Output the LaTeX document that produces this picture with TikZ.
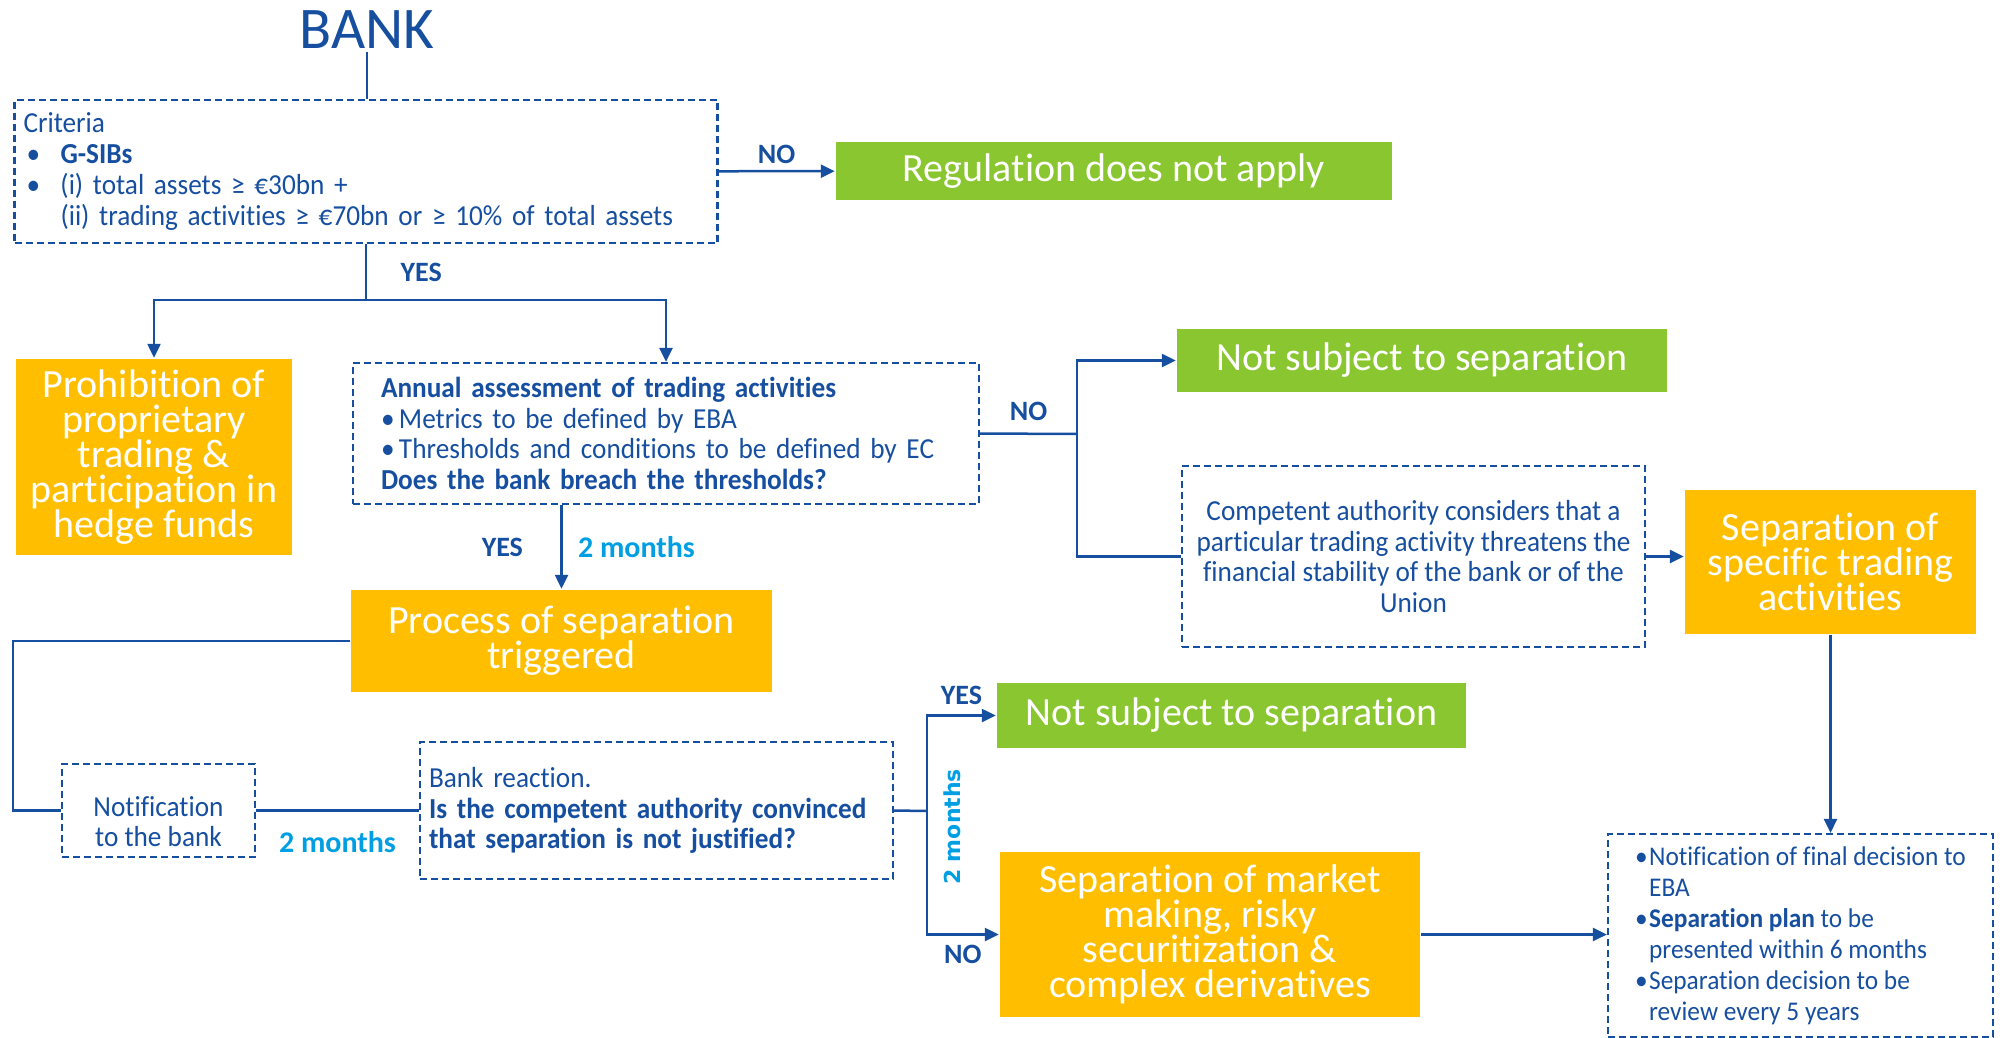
\documentclass[tikz,border=0pt]{standalone}
\usepackage{fontspec}
\setmainfont{Carlito}[Ligatures=NoCommon]
\newfontfamily\narrowfont{Carlito}[FakeStretch=0.94, Ligatures=NoCommon]
\newfontfamily\widefont{DejaVu Sans}
\usetikzlibrary{arrows.meta,positioning}

\definecolor{ecbblue}{RGB}{22,78,160}
\definecolor{ecborange}{RGB}{255,191,0}
\definecolor{ecbgreen}{RGB}{137,198,47}
\definecolor{ecbcyan}{RGB}{0,159,227}

\newcommand{\bigtxt}{\fontsize{40}{35}\selectfont}
\newcommand{\smalltxt}{\narrowfont\fontsize{29}{30.7}\selectfont\hyphenpenalty=10000}
\newcommand{\lbltxt}{\fontsize{28}{30}\selectfont\bfseries}
\newcommand{\bul}{\makebox[18pt][l]{\textbullet}}

\begin{document}
\begin{tikzpicture}[x=1pt, y=-1pt, color=ecbblue, line width=2.5pt,
    >={Triangle[length=14pt,width=13pt]}]
  \tikzstyle{dashbox}=[draw=ecbblue, line width=2.2pt, dash pattern=on 7pt off 4pt,
    text=ecbblue, font=\smalltxt, inner ysep=2pt]
  \tikzstyle{orangebox}=[fill=ecborange, text=white, align=center, font=\bigtxt, inner sep=2pt]
  \tikzstyle{greenbox}=[fill=ecbgreen, text=white, font=\bigtxt, inner sep=2pt]
  \tikzstyle{lbl}=[text=ecbblue, font=\lbltxt]
  \tikzstyle{months}=[text=ecbcyan, font=\fontsize{30}{30}\selectfont\bfseries]
  \tikzstyle{monthsup}=[text=ecbcyan, font=\widefont\bfseries\fontsize{22}{22}\selectfont]
  \useasboundingbox (0,0) rectangle (2004,1038);

  % top part
  \node[font=\fontsize{59}{59}\selectfont, inner sep=2pt] (bank) at (367,30) {BANK};
  \node[dashbox, text width=685pt, inner xsep=9pt, minimum height=143pt, align=left] (crit) at (366,171.5)
    {Criteria\\
     \makebox[37pt][l]{\hspace{3pt}\textbullet}\textbf{G-SIBs}\\
     \makebox[37pt][l]{\hspace{3pt}\textbullet}(i) total assets ≥ €30bn +\\
     \hspace*{37pt}(ii) trading activities ≥ €70bn or ≥ 10\% of total assets};
  \node[greenbox, minimum width=556pt, minimum height=58pt] (reg) at (1114,171) {Regulation does not apply};

  \node[orangebox, minimum width=276pt, minimum height=196pt] (prohib) at (154,457)
    {Prohibition of\\proprietary\\trading \&\\participation in\\hedge funds};
  \node[dashbox, text width=570pt, inner xsep=28pt, minimum height=141pt, align=left] (annual) at (666,433.5)
    {\textbf{Annual assessment of trading activities}\\
     \bul Metrics to be defined by EBA\\
     \bul Thresholds and conditions to be defined by EC\\
     \textbf{Does the bank breach the thresholds?}};

  % right branch
  \node[greenbox, minimum width=490pt, minimum height=63pt] (nsep1) at (1422,360.5) {Not subject to separation};
  \node[dashbox, minimum width=463pt, minimum height=181pt, align=center] (compet) at (1413.5,556.5)
    {Competent authority considers that a\\particular trading activity threatens the\\financial stability of the bank or of the\\Union};
  \node[orangebox, minimum width=291pt, minimum height=144pt] (specific) at (1830.5,562)
    {Separation of\\specific trading\\activities};

  % separation process
  \node[orangebox, minimum width=421pt, minimum height=102pt] (process) at (561.5,641)
    {Process of separation\\triggered};
  \node[dashbox, minimum width=193pt, minimum height=93pt, align=center] (notif) at (158.5,810.5)
    {\rule{0pt}{42pt}Notification\\to the bank};
  \node[dashbox, text width=455pt, inner xsep=9pt, minimum height=137pt, align=left] (react) at (656.5,810.5)
    {Bank reaction.\\
     \textbf{Is the competent authority convinced}\\
     \textbf{that separation is not justified?}};
  \node[greenbox, minimum width=469pt, minimum height=65pt] (nsep2) at (1231.5,715.5) {Not subject to separation};
  \node[orangebox, minimum width=420pt, minimum height=165pt] (market) at (1210,934.5)
    {Separation of market\\making, risky\\securitization \&\\complex derivatives};
  \node[dashbox, minimum width=385pt, minimum height=203pt, align=left,
    font=\narrowfont\fontsize{27}{31}\selectfont] (final) at (1800.5,935.5)
    {\makebox[14pt][l]{\textbullet}Notification of final decision to\\
     \hspace*{14pt}EBA\\
     \makebox[14pt][l]{\textbullet}\textbf{Separation plan} to be\\
     \hspace*{14pt}presented within 6 months\\
     \makebox[14pt][l]{\textbullet}Separation decision to be\\
     \hspace*{14pt}review every 5 years};

  \coordinate (split) at (366,300);
  \coordinate (vn) at (1077,434);
  \coordinate (lft) at (13,641);
  \coordinate (vs) at (927,811);

  % connectors
  \draw (bank) -- (bank |- crit.north);
  \path[->] (crit) edge node[above=3pt, lbl]{NO} (reg);
  \draw (crit.south) -- node[right=30pt, lbl]{YES} (split);
  \draw[->] (split) -| (prohib.north);
  \draw[->] (split) -| (annual.north);

  \draw (annual.east) -- node[above=8pt, lbl]{NO} (vn);
  \draw[->] (vn) |- (nsep1.west);
  \draw (vn) |- (compet.west);
  \draw[->] (compet.east) -- (compet.east -| specific.west);
  \draw[->] (specific.south) -- (specific.south |- final.north);

  \draw[->] (annual.south -| process.north) -- node[left=34pt, lbl]{YES}
    node[right=12pt, months]{2 months} (process.north);
  \draw (process.west) -- (lft) |- (notif.west);
  \draw (notif.east) -- node[below=16pt, months]{2 months} (react.west);
  \draw (react.east) -- (vs);
  \draw[->] (vs) |- node[pos=0.75, above=6pt, lbl]{YES} (nsep2.west);
  \draw[->] (vs) |- node[pos=0.75, below=6pt, lbl]{NO} (market.west);
  \node[rotate=90, monthsup] (mup) at ([xshift=25pt, yshift=-16pt]vs) {2 months};
  \draw[->] (market.east) -- (market.east -| final.west);
\end{tikzpicture}
\end{document}
